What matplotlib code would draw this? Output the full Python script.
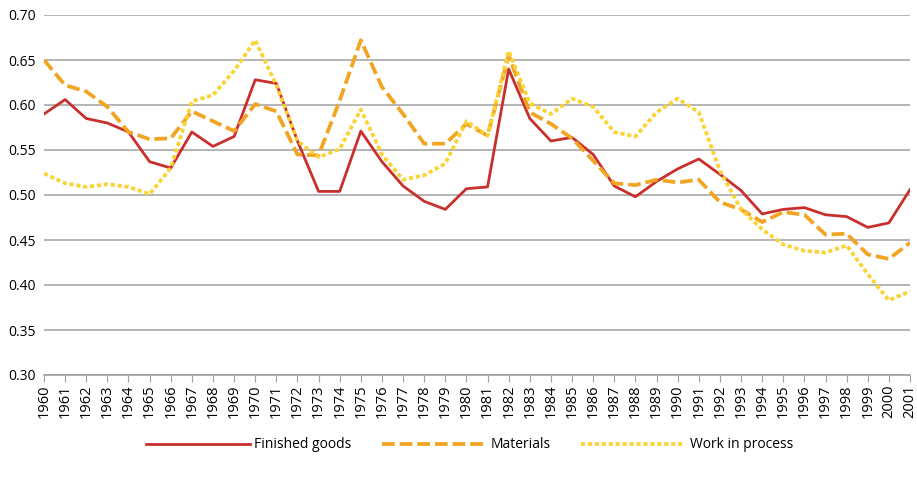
import numpy as np
import matplotlib.pyplot as plt

plt.rcParams['font.family'] = ['Open Sans', 'DejaVu Sans']

years = list(range(1960, 2002))

finished = [0.590, 0.606, 0.585, 0.580, 0.570, 0.537, 0.530, 0.570, 0.554, 0.565,
            0.628, 0.624, 0.560, 0.504, 0.504, 0.571, 0.537, 0.510, 0.493, 0.484,
            0.507, 0.509, 0.640, 0.585, 0.560, 0.564, 0.545, 0.510, 0.498, 0.515,
            0.529, 0.540, 0.523, 0.505, 0.479, 0.484, 0.486, 0.478, 0.476, 0.464,
            0.469, 0.506]

materials = [0.650, 0.622, 0.615, 0.598, 0.570, 0.562, 0.563, 0.593, 0.582, 0.571,
             0.601, 0.593, 0.545, 0.544, 0.605, 0.672, 0.620, 0.590, 0.557, 0.557,
             0.579, 0.566, 0.655, 0.592, 0.579, 0.563, 0.538, 0.513, 0.511, 0.517,
             0.514, 0.517, 0.492, 0.484, 0.470, 0.481, 0.478, 0.456, 0.457, 0.434,
             0.429, 0.447]

wip = [0.524, 0.513, 0.509, 0.512, 0.509, 0.501, 0.530, 0.604, 0.611, 0.638,
       0.672, 0.622, 0.560, 0.542, 0.551, 0.595, 0.545, 0.517, 0.522, 0.535,
       0.582, 0.566, 0.660, 0.602, 0.590, 0.607, 0.598, 0.570, 0.565, 0.592,
       0.607, 0.592, 0.527, 0.484, 0.462, 0.445, 0.438, 0.436, 0.444, 0.412,
       0.383, 0.393]

yticks = [0.30, 0.35, 0.40, 0.45, 0.50, 0.55, 0.60, 0.65, 0.70]

fig = plt.figure(figsize=(9.17, 4.83), dpi=100)
ax = fig.add_axes([44 / 917, 1 - 375 / 483, (910 - 44) / 917, (375 - 15) / 483])

ax.plot(years, finished, color='#c8302e', lw=2.0, label='Finished goods')
ax.plot(years, materials, color='#f2a423', lw=2.7, dashes=(3.4, 1.3), label='Materials')
ax.plot(years, wip, color='#fbd335', lw=2.7, dashes=(1.1, 0.75), label='Work in process')

ax.set_xlim(1960, 2001)
ax.set_ylim(0.30, 0.70)
ax.set_yticks(yticks)
ax.set_yticklabels([f'{v:.2f}' for v in yticks])
ax.set_xticks(years)
ax.set_xticklabels([str(y) for y in years], rotation=90)
ax.tick_params(axis='y', length=0, labelsize=10, pad=6)
ax.tick_params(axis='x', length=5, color='#a0a0a0', labelsize=10.5, pad=2)
ax.grid(axis='y', color='#a8a8a8', lw=1.2)
ax.set_axisbelow(True)
for s in ['top', 'right', 'left']:
    ax.spines[s].set_visible(False)
ax.spines['bottom'].set_color('#a0a0a0')
ax.spines['bottom'].set_linewidth(1.2)

fig.legend(loc='center', bbox_to_anchor=(0.512, 1 - 445 / 483), ncol=3, frameon=False,
           fontsize=10, handlelength=7.5, columnspacing=2.2, handletextpad=0.3)

fig.savefig('out.png', dpi=100)
